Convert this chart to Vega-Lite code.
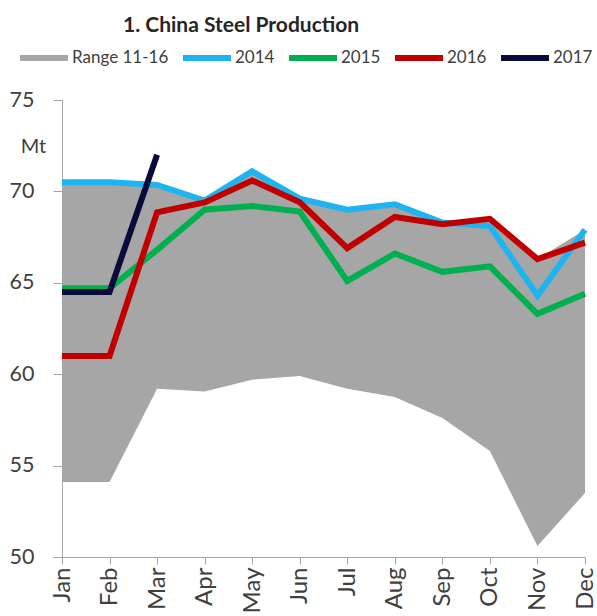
{
  "$schema": "https://vega.github.io/schema/vega-lite/v6.json",
  "width": 523,
  "height": 457,
  "autosize": "none",
  "padding": {"left": 62, "top": 100, "right": 12, "bottom": 59},
  "background": "white",
  "title": {
    "text": "1. China Steel Production",
    "anchor": "start",
    "frame": "group",
    "dx": 61,
    "offset": -5,
    "font": "Lato",
    "fontSize": 21,
    "fontWeight": "bold",
    "color": "#262626"
  },
  "datasets": {
    "range": [
      {"month": "Jan", "series": "Range 11-16", "low": 54.1, "high": 70.5},
      {"month": "Feb", "series": "Range 11-16", "low": 54.1, "high": 70.5},
      {"month": "Mar", "series": "Range 11-16", "low": 59.2, "high": 70.35},
      {"month": "Apr", "series": "Range 11-16", "low": 59.05, "high": 69.5},
      {"month": "May", "series": "Range 11-16", "low": 59.7, "high": 71.0},
      {"month": "Jun", "series": "Range 11-16", "low": 59.9, "high": 69.6},
      {"month": "Jul", "series": "Range 11-16", "low": 59.2, "high": 69.0},
      {"month": "Aug", "series": "Range 11-16", "low": 58.75, "high": 69.3},
      {"month": "Sep", "series": "Range 11-16", "low": 57.6, "high": 68.3},
      {"month": "Oct", "series": "Range 11-16", "low": 55.8, "high": 68.5},
      {"month": "Nov", "series": "Range 11-16", "low": 50.6, "high": 66.3},
      {"month": "Dec", "series": "Range 11-16", "low": 53.5, "high": 67.9}
    ],
    "lines": [
      {"month": "Jan", "series": "2014", "value": 70.5},
      {"month": "Feb", "series": "2014", "value": 70.5},
      {"month": "Mar", "series": "2014", "value": 70.35},
      {"month": "Apr", "series": "2014", "value": 69.5},
      {"month": "May", "series": "2014", "value": 71.1},
      {"month": "Jun", "series": "2014", "value": 69.6},
      {"month": "Jul", "series": "2014", "value": 69.0},
      {"month": "Aug", "series": "2014", "value": 69.3},
      {"month": "Sep", "series": "2014", "value": 68.3},
      {"month": "Oct", "series": "2014", "value": 68.1},
      {"month": "Nov", "series": "2014", "value": 64.3},
      {"month": "Dec", "series": "2014", "value": 67.9},
      {"month": "Jan", "series": "2015", "value": 64.7},
      {"month": "Feb", "series": "2015", "value": 64.7},
      {"month": "Mar", "series": "2015", "value": 66.8},
      {"month": "Apr", "series": "2015", "value": 69.0},
      {"month": "May", "series": "2015", "value": 69.2},
      {"month": "Jun", "series": "2015", "value": 68.9},
      {"month": "Jul", "series": "2015", "value": 65.1},
      {"month": "Aug", "series": "2015", "value": 66.6},
      {"month": "Sep", "series": "2015", "value": 65.6},
      {"month": "Oct", "series": "2015", "value": 65.9},
      {"month": "Nov", "series": "2015", "value": 63.3},
      {"month": "Dec", "series": "2015", "value": 64.4},
      {"month": "Jan", "series": "2016", "value": 61.0},
      {"month": "Feb", "series": "2016", "value": 61.0},
      {"month": "Mar", "series": "2016", "value": 68.85},
      {"month": "Apr", "series": "2016", "value": 69.4},
      {"month": "May", "series": "2016", "value": 70.6},
      {"month": "Jun", "series": "2016", "value": 69.4},
      {"month": "Jul", "series": "2016", "value": 66.9},
      {"month": "Aug", "series": "2016", "value": 68.6},
      {"month": "Sep", "series": "2016", "value": 68.2},
      {"month": "Oct", "series": "2016", "value": 68.5},
      {"month": "Nov", "series": "2016", "value": 66.3},
      {"month": "Dec", "series": "2016", "value": 67.2},
      {"month": "Jan", "series": "2017", "value": 64.5},
      {"month": "Feb", "series": "2017", "value": 64.5},
      {"month": "Mar", "series": "2017", "value": 72.0}
    ]
  },
  "encoding": {
    "x": {
      "field": "month",
      "type": "ordinal",
      "sort": ["Jan","Feb","Mar","Apr","May","Jun","Jul","Aug","Sep","Oct","Nov","Dec"],
      "scale": {"type": "point", "padding": 0},
      "axis": {
        "title": null,
        "labelAngle": -90,
        "labelFont": "Lato",
        "labelFontSize": 24,
        "labelColor": "#404040",
        "labelPadding": 3,
        "domainColor": "#a6a6a6",
        "tickColor": "#a6a6a6",
        "tickSize": 7,
        "grid": false
      }
    }
  },
  "layer": [
    {
      "data": {"name": "range"},
      "mark": {"type": "area", "opacity": 1},
      "encoding": {
        "y": {
          "field": "high",
          "type": "quantitative",
          "scale": {"domain": [50, 75], "nice": false, "zero": false},
          "axis": {
            "values": [50, 55, 60, 65, 70, 75],
            "title": "Mt",
            "titleAngle": 0,
            "titleX": -29,
            "titleY": 46,
            "titleAlign": "center",
            "titleBaseline": "middle",
            "titleFont": "Lato",
            "titleFontSize": 20,
            "titleFontWeight": "normal",
            "titleColor": "#404040",
            "labelFont": "Lato",
            "labelFontSize": 21.5,
            "labelColor": "#404040",
            "labelPadding": 19,
            "tickSize": 9,
            "tickColor": "#a6a6a6",
            "domainColor": "#a6a6a6",
            "grid": false
          }
        },
        "y2": {"field": "low"},
        "color": {
          "field": "series",
          "type": "nominal",
          "scale": {
            "domain": ["Range 11-16", "2014", "2015", "2016", "2017"],
            "range": ["#a6a6a6", "#1eb4ef", "#00b050", "#c00000", "#0b0b3b"]
          },
          "legend": {
            "title": null,
            "orient": "none",
            "direction": "horizontal",
            "legendX": -45,
            "legendY": -69,
            "padding": 0,
            "symbolType": "stroke",
            "symbolSize": 2304,
            "symbolStrokeWidth": 6,
            "labelFont": "Lato",
            "labelFontSize": 17,
            "labelColor": "#404040",
            "labelOffset": 1,
            "columnPadding": 2,
            "encode": {
              "symbols": {
                "update": {
                  "stroke": {"scale": "color", "field": "value"},
                  "strokeWidth": {"signal": "datum.value === 'Range 11-16' ? 10 : 6"},
                  "strokeCap": {"signal": "datum.value === 'Range 11-16' ? 'butt' : 'round'"}
                }
              }
            }
          }
        }
      }
    },
    {
      "data": {"name": "lines"},
      "mark": {"type": "line", "strokeWidth": 6},
      "encoding": {
        "y": {"field": "value", "type": "quantitative"},
        "color": {"field": "series", "type": "nominal"}
      }
    }
  ],
  "config": {
    "view": {"stroke": null}
  }
}
